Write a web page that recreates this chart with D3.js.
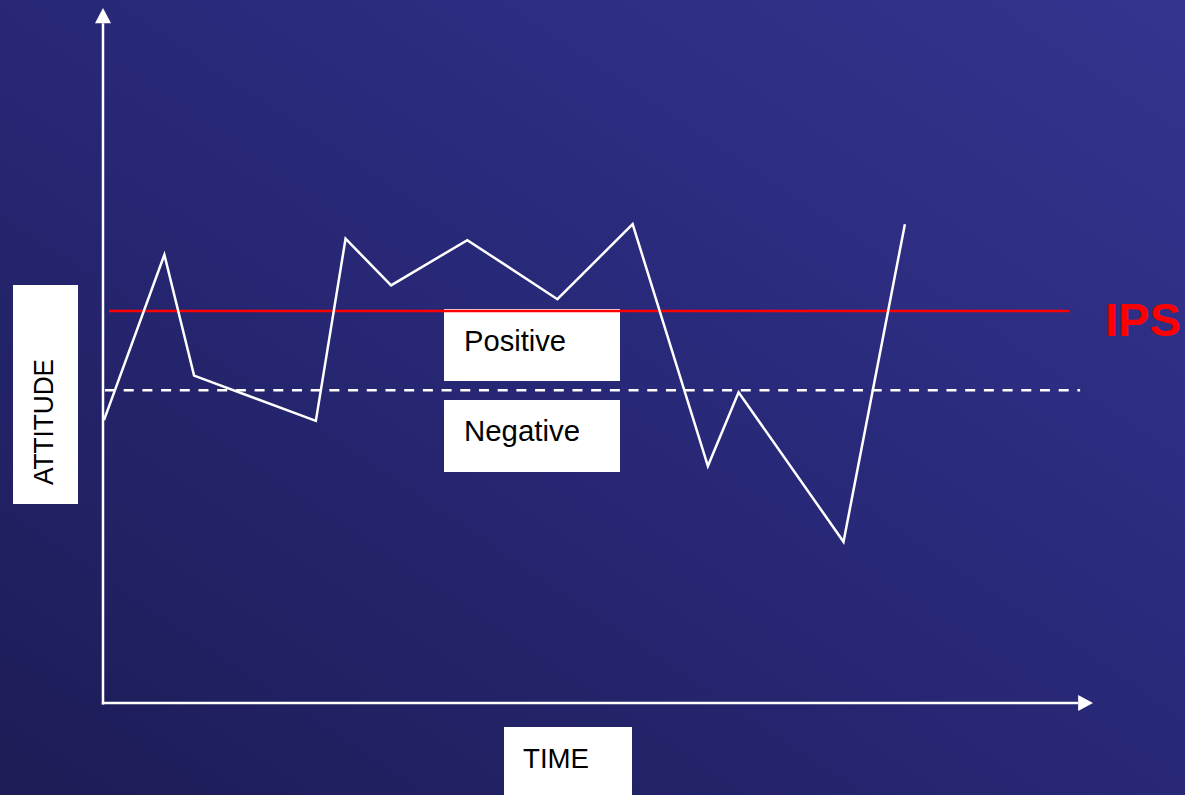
<!DOCTYPE html>
<html>
<head>
<meta charset="utf-8">
<script src="https://cdn.jsdelivr.net/npm/d3@7"></script>
<style>
  html, body { margin: 0; padding: 0; overflow: hidden; background: #2a2a78; }
  svg { display: block; }
</style>
</head>
<body>
<svg id="chart" width="1185" height="795"></svg>
<script>
// ---- Data (arbitrary units: time 0-100, attitude 0-100) ----
const timePoints = [0.1, 6.2, 9.2, 21.5, 24.5, 29.1, 36.8, 45.9, 53.5, 61.1, 64.2, 74.8, 81.0];
const attitudeValues = [40.7, 64.5, 47.1, 40.6, 66.8, 60.1, 66.6, 58.1, 68.9, 34.1, 44.7, 23.2, 68.9];
const ipsLevel = 56.4;          // red IPS threshold
const neutralLevel = 45.0;      // dashed neutral line
const ipsSpan = [0.6, 97.6];
const neutralSpan = [0.2, 98.7];
const labels = { y: "ATTITUDE", x: "TIME", pos: "Positive", neg: "Negative", ips: "IPS" };

const W = 1185, H = 795;
const svg = d3.select("#chart");

// background gradient
const defs = svg.append("defs");
const grad = defs.append("linearGradient").attr("id", "bg")
  .attr("x1", 0).attr("y1", 1).attr("x2", 1).attr("y2", 0);
grad.append("stop").attr("offset", "0%").attr("stop-color", "#1d1c56");
grad.append("stop").attr("offset", "55%").attr("stop-color", "#29297a");
grad.append("stop").attr("offset", "100%").attr("stop-color", "#34348f");
svg.append("rect").attr("width", W).attr("height", H).attr("fill", "url(#bg)");

// scales
const x = d3.scaleLinear().domain([0, 100]).range([103, 1093]);
const y = d3.scaleLinear().domain([0, 100]).range([703, 8]);

// axes (arrows)
const axisG = svg.append("g");
axisG.append("line")
  .attr("x1", x(0)).attr("y1", y(0) + 1.5).attr("x2", x(0)).attr("y2", y(97.8))
  .attr("stroke", "#fff").attr("stroke-width", 2.5);
axisG.append("path")
  .attr("d", `M${x(0) - 8},${y(97.8)} L${x(0)},${y(100)} L${x(0) + 8},${y(97.8)} Z`)
  .attr("fill", "#fff");
axisG.append("line")
  .attr("x1", x(0) - 1.2).attr("y1", y(0)).attr("x2", x(98.5)).attr("y2", y(0))
  .attr("stroke", "#fff").attr("stroke-width", 2.5);
axisG.append("path")
  .attr("d", `M${x(98.5)},${y(0) - 8} L${x(100)},${y(0)} L${x(98.5)},${y(0) + 8} Z`)
  .attr("fill", "#fff");

// dashed neutral line
svg.append("line")
  .attr("x1", x(neutralSpan[0])).attr("x2", x(neutralSpan[1]))
  .attr("y1", y(neutralLevel)).attr("y2", y(neutralLevel))
  .attr("stroke", "#fff").attr("stroke-width", 2.6)
  .attr("stroke-dasharray", "10 8.7");

// label boxes
function box(x0, y0, w, h) {
  svg.append("rect").attr("x", x0).attr("y", y0).attr("width", w).attr("height", h).attr("fill", "#fff");
}
box(444, 309, 176, 72);
box(444, 400, 176, 72);
box(13, 285, 65, 219);
box(504, 727, 128, 70);

svg.append("text").attr("x", 464).attr("y", 351)
  .attr("font-family", "'Liberation Sans', Arial, sans-serif").attr("font-size", 29)
  .attr("textLength", 102).attr("lengthAdjust", "spacingAndGlyphs")
  .attr("fill", "#000").text(labels.pos);
svg.append("text").attr("x", 464).attr("y", 441)
  .attr("font-family", "'Liberation Sans', Arial, sans-serif").attr("font-size", 29)
  .attr("textLength", 116).attr("lengthAdjust", "spacingAndGlyphs")
  .attr("fill", "#000").text(labels.neg);
svg.append("text")
  .attr("transform", "translate(53,422) rotate(-90)")
  .attr("text-anchor", "middle")
  .attr("font-family", "'Liberation Sans', Arial, sans-serif").attr("font-size", 28)
  .attr("textLength", 126).attr("lengthAdjust", "spacingAndGlyphs")
  .attr("fill", "#000").text(labels.y);
svg.append("text").attr("x", 523).attr("y", 768)
  .attr("font-family", "'Liberation Sans', Arial, sans-serif").attr("font-size", 28)
  .attr("textLength", 66).attr("lengthAdjust", "spacingAndGlyphs")
  .attr("fill", "#000").text(labels.x);

// red IPS line
svg.append("line")
  .attr("x1", x(ipsSpan[0])).attr("x2", x(ipsSpan[1]))
  .attr("y1", y(ipsLevel)).attr("y2", y(ipsLevel))
  .attr("stroke", "#ff0000").attr("stroke-width", 2.5);
svg.append("text").attr("x", 1105).attr("y", 336)
  .attr("font-family", "'Liberation Sans', Arial, sans-serif").attr("font-size", 47)
  .attr("font-weight", "bold").attr("fill", "#ff0000").text(labels.ips);

// attitude line
const data = timePoints.map((t, i) => ({ t, a: attitudeValues[i] }));
const line = d3.line().x(d => x(d.t)).y(d => y(d.a));
svg.append("path").datum(data)
  .attr("d", line)
  .attr("fill", "none").attr("stroke", "#fff").attr("stroke-width", 2.5)
  .attr("stroke-linejoin", "miter");
</script>
</body>
</html>
